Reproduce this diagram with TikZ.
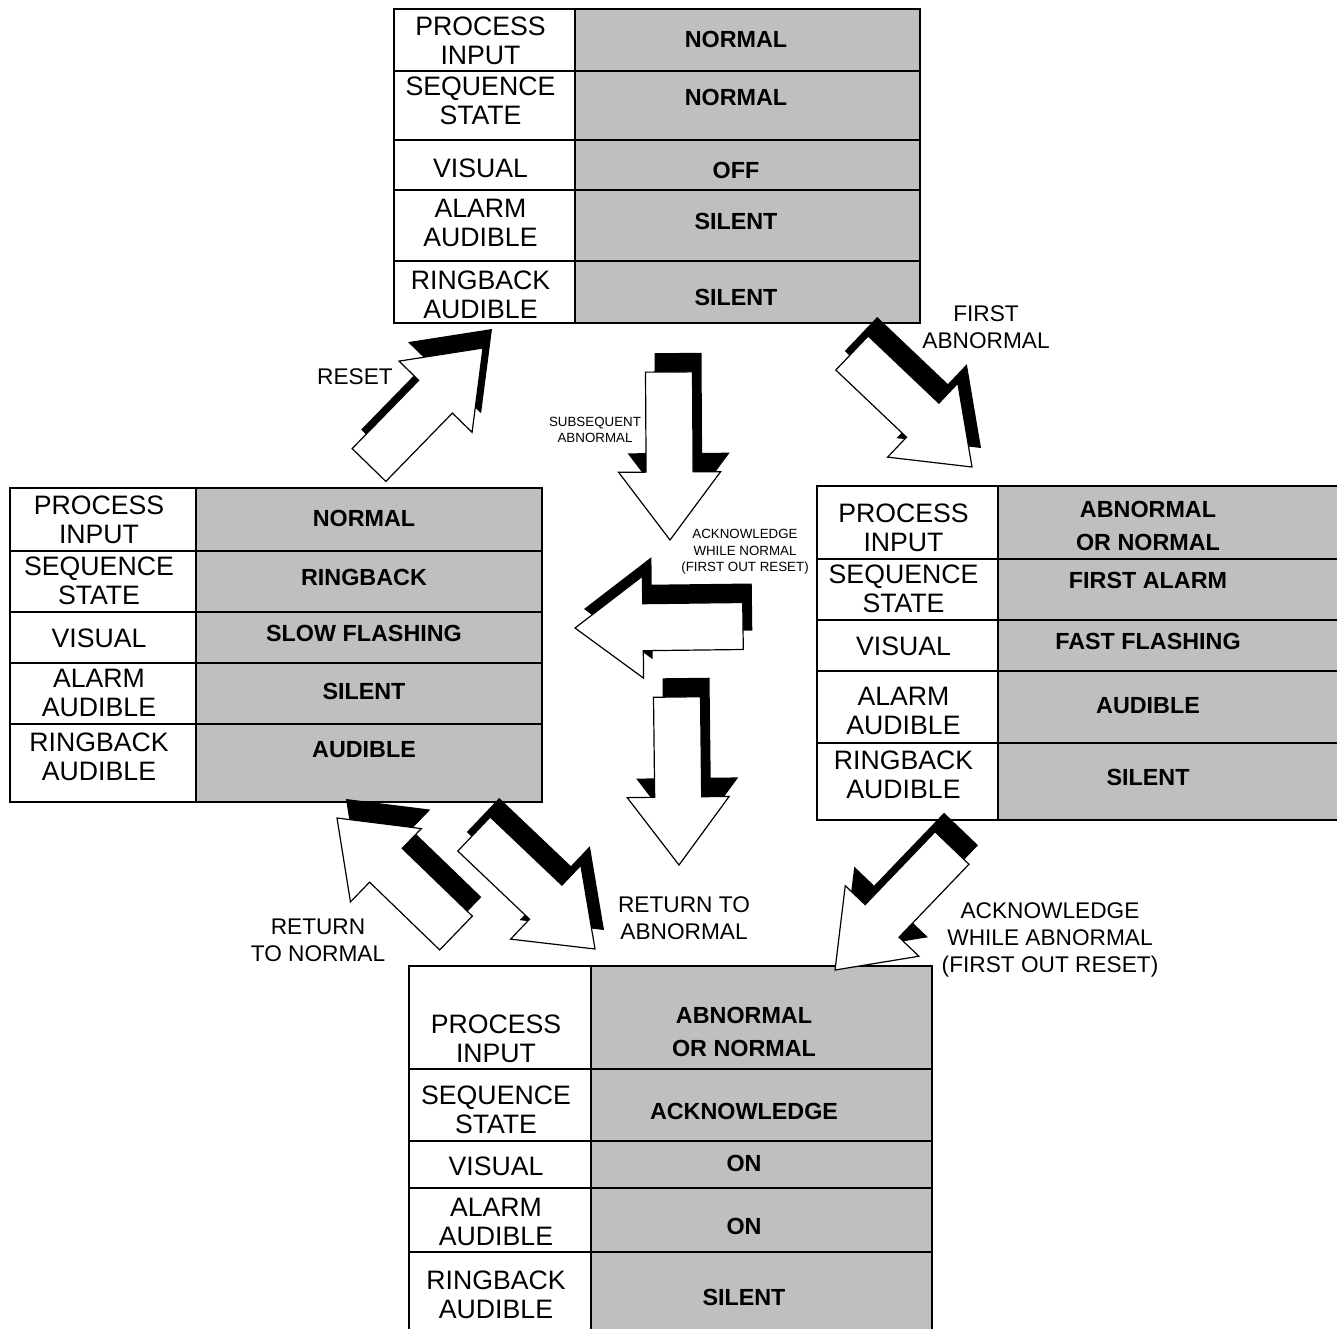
\documentclass[tikz,border=0pt]{standalone}
\usepackage{fontspec}
\setmainfont{Liberation Sans}

% One state table: #1 name, #2 left x, #3 top y, #4 column divider x,
% #5 right x, #6 bottom y, #7 centre x of the value column,
% #8 rows as  top/bottom/label y/label/value y/value
\newcommand{\statetable}[8]{%
  \pgfmathsetmacro\labcx{(#2+#4)/2-4}%
  \fill[valfill] (#4,#3) rectangle (#5,#6);
  \foreach \ya/\yb/\ly/\lab/\vy/\val [count=\i] in {#8}{
    \draw[gridline] (#2,\yb) -- (#5,\yb);
    \node[labtext] (#1-l\i) at (\labcx,\ly) {\lab};
    \node[valtext] (#1-v\i) at (#7,\vy) {\val};
  }
  \draw[frame] (#4,#3) -- (#4,#6);
  \draw[frame] (#2,#3) rectangle (#5,#6);
}

% Block arrow with a hard drop shadow: tail (#1,#2), tip (#3,#4)
\newcommand{\blockarrow}[4]{%
  \pgfmathsetmacro\arrang{atan2((#2)-(#4),(#3)-(#1))}%
  \pgfmathsetmacro\arrlen{veclen((#3)-(#1),(#4)-(#2))}%
  \pgfmathsetmacro\arrneck{\arrlen-68}%
  \fill[arrowshadow, shift={(#1+9,#2-19)}, rotate=\arrang]
    (0,23.5) -- (\arrneck,23.5) -- (\arrneck,51) -- (\arrlen,0)
    -- (\arrneck,-51) -- (\arrneck,-23.5) -- (0,-23.5) -- cycle;
  \filldraw[arrowbody, shift={(#1,#2)}, rotate=\arrang]
    (0,23.5) -- (\arrneck,23.5) -- (\arrneck,51) -- (\arrlen,0)
    -- (\arrneck,-51) -- (\arrneck,-23.5) -- (0,-23.5) -- cycle;
}

\begin{document}
\begin{tikzpicture}[x=0.75pt,y=-0.75pt,
  valfill/.style={fill=black!25},
  gridline/.style={line width=0.8pt},
  frame/.style={line width=1.3pt},
  labtext/.style={font=\fontsize{20}{21.75}\selectfont, align=center, inner sep=0pt},
  valtext/.style={font=\fontsize{17.5}{24.75}\selectfont\bfseries, align=center, inner sep=0pt},
  note/.style={font=\fontsize{17}{20}\selectfont, align=center, inner sep=0pt},
  smallnote/.style={font=\fontsize{10}{12.5}\selectfont, align=center, inner sep=0pt},
  arrowbody/.style={fill=white, draw=black, line width=0.9pt, line join=miter},
  arrowshadow/.style={fill=black},
]
\useasboundingbox (0,0) rectangle (1337,1328);
\clip (0,0) rectangle (1337,1328);
\fill[white] (0,0) rectangle (1337,1328);

% normal state
\statetable{normal}{394}{9}{575}{920}{323}{736}{
  9/71/40.5/{PROCESS\\INPUT}/39/{NORMAL},
  71/140/101/{SEQUENCE\\STATE}/97/{NORMAL},
  140/190/168/{VISUAL}/170/{OFF},
  190/261/223/{ALARM\\AUDIBLE}/221/{SILENT},
  261/323/295/{RINGBACK\\AUDIBLE}/297/{SILENT}}

% ringback state
\statetable{ringback}{10}{488}{196}{542}{802}{364}{
  488/551/520/{PROCESS\\INPUT}/518/{NORMAL},
  551/612/581/{SEQUENCE\\STATE}/577/{RINGBACK},
  612/663/638/{VISUAL}/633/{SLOW FLASHING},
  663/724/693/{ALARM\\AUDIBLE}/691/{SILENT},
  724/802/757/{RINGBACK\\AUDIBLE}/750/{AUDIBLE}}

% first alarm state
\statetable{first}{817}{486}{998}{1340}{820}{1148}{
  486/559/528/{PROCESS\\INPUT}/525.5/{ABNORMAL\\OR NORMAL},
  559/620/589/{SEQUENCE\\STATE}/580/{FIRST ALARM},
  620/671/646/{VISUAL}/641/{FAST FLASHING},
  671/743/711/{ALARM\\AUDIBLE}/706/{AUDIBLE},
  743/820/775/{RINGBACK\\AUDIBLE}/777/{SILENT}}

% acknowledged state
\statetable{ack}{409}{966}{591}{932}{1335}{744}{
  966/1069/1038.5/{PROCESS\\INPUT}/1032/{ABNORMAL\\OR NORMAL},
  1069/1141/1109.5/{SEQUENCE\\STATE}/1111/{ACKNOWLEDGE},
  1141/1188/1166/{VISUAL}/1163/{ON},
  1188/1252/1221.5/{ALARM\\AUDIBLE}/1226/{ON},
  1252/1335/1295/{RINGBACK\\AUDIBLE}/1297/{SILENT}}

% transitions
\blockarrow{369}{465}{483}{348}   % reset
\blockarrow{852}{353}{972}{467}   % first abnormal
\blockarrow{669}{372}{670}{540}   % subsequent abnormal
\blockarrow{743}{626}{575}{628}   % acknowledge while normal
\blockarrow{677}{697}{679}{865}   % into acknowledge
\blockarrow{456}{933}{337}{818}   % return to normal
\blockarrow{474}{834}{595}{949}   % return to abnormal
\blockarrow{952}{848}{835}{970}   % acknowledge while abnormal

% transition labels
\node[note] (lreset) at (355,377) {RESET};
\node[note] (lfirst) at (986,327) {FIRST\\ABNORMAL};
\node[smallnote] (lsubs) at (595,430) {SUBSEQUENT\\ABNORMAL};
\node[smallnote] (lackn) at (745,552) {ACKNOWLEDGE\\WHILE NORMAL\\(FIRST OUT RESET)};
\node[note] (lretn) at (318,940) {RETURN\\TO NORMAL};
\node[note] (lreta) at (684,918) {RETURN TO\\ABNORMAL};
\node[note] (lacka) at (1050,940) {ACKNOWLEDGE\\WHILE ABNORMAL\\(FIRST OUT RESET)};
\end{tikzpicture}
\end{document}
